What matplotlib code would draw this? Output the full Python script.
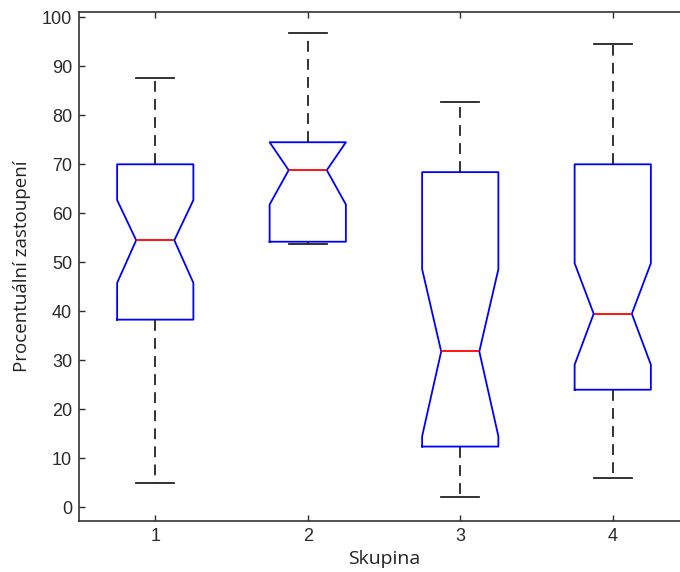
"""Notched boxplot of percentage share by group (MATLAB-style look)."""
import matplotlib

matplotlib.use("Agg")
import matplotlib.pyplot as plt

GROUPS = [1, 2, 3, 4]
WHISKER_HIGH = [87.6, 96.7, 82.7, 94.5]
Q3 = [70.0, 74.5, 68.4, 70.0]
NOTCH_HIGH = [62.7, 74.5, 48.6, 49.8]
MEDIANS = [54.5, 68.8, 31.8, 39.5]
NOTCH_LOW = [45.8, 61.8, 14.5, 29.1]
Q1 = [38.3, 54.2, 12.4, 24.0]
WHISKER_LOW = [5.0, 53.8, 2.1, 6.0]

Y_TICKS = list(range(0, 101, 10))


def build_stats():
    stats = []
    for i in range(len(GROUPS)):
        stats.append(
            {
                "med": MEDIANS[i],
                "q1": Q1[i],
                "q3": Q3[i],
                "cilo": NOTCH_LOW[i],
                "cihi": NOTCH_HIGH[i],
                "whislo": WHISKER_LOW[i],
                "whishi": WHISKER_HIGH[i],
                "fliers": [],
            }
        )
    return stats


def main():
    plt.rcParams["font.family"] = ["Liberation Sans Narrow", "Liberation Sans", "DejaVu Sans"]
    fig = plt.figure(figsize=(6.8, 5.72), dpi=100)
    ax = fig.add_axes([79 / 680, 51.3 / 572, 610 / 680, 509 / 572])

    ax.bxp(
        build_stats(),
        positions=GROUPS,
        widths=0.5,
        shownotches=True,
        showfliers=False,
        boxprops={"color": "#0000ff", "linewidth": 1.3},
        medianprops={"color": "#ff0000", "linewidth": 1.3},
        whiskerprops={"color": "#222222", "linewidth": 1.3, "linestyle": (0, (6, 4))},
        capprops={"color": "#222222", "linewidth": 1.3},
    )

    ax.set_xlim(0.5, 4.5)
    ax.set_ylim(-2.73, 101.14)
    ax.set_xticks(GROUPS)
    ax.set_xticklabels([str(g) for g in GROUPS])
    ax.set_yticks(Y_TICKS)
    ax.tick_params(direction="in", top=True, right=True, length=4, width=1,
                   labelsize=13, colors="#2a2a2a", pad=5)
    for spine in ax.spines.values():
        spine.set_color("#333333")
        spine.set_linewidth(1.2)

    ax.set_xlabel("Skupina", family=["Open Sans", "DejaVu Sans"], size=14,
                  color="#222222", labelpad=4)
    ax.set_ylabel("Procentuální zastoupení", family=["Open Sans", "DejaVu Sans"],
                  size=13.5, color="#222222", labelpad=8)

    fig.savefig("out.png", dpi=100)
    plt.close(fig)


if __name__ == "__main__":
    main()
